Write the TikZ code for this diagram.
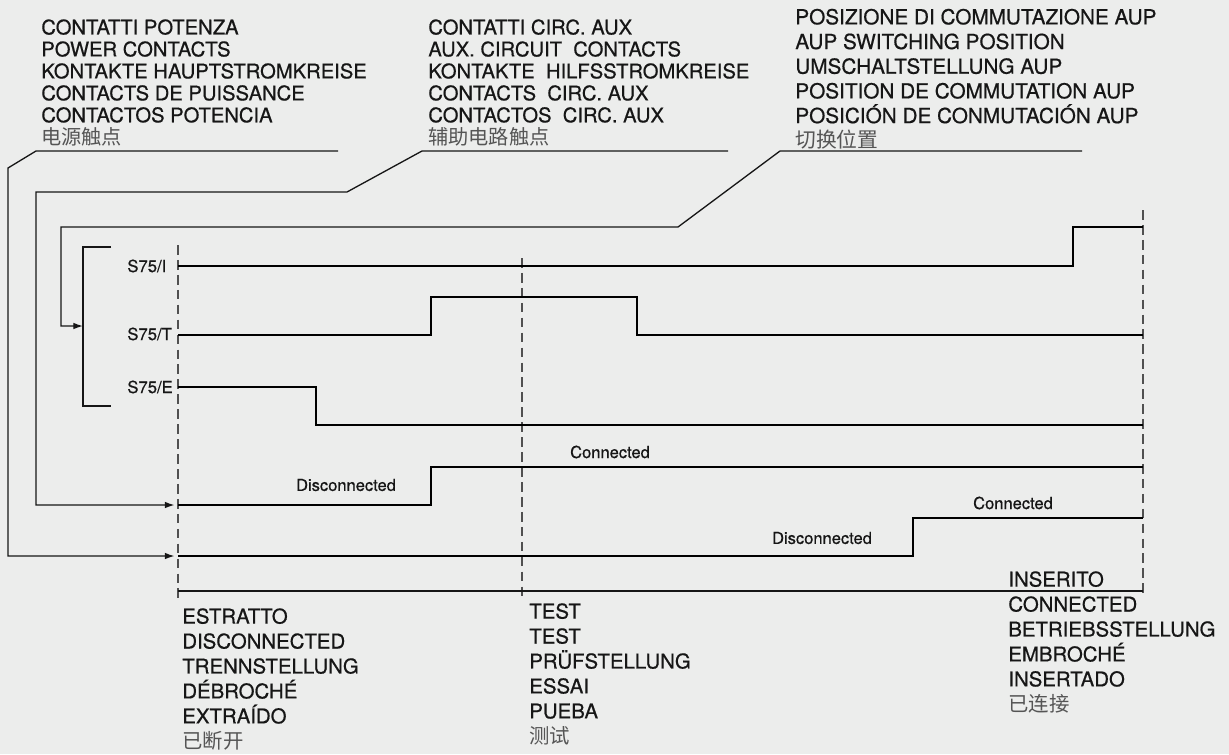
\documentclass[tikz,border=0pt]{standalone}
\usepackage{fontspec}
\setmainfont{TeX Gyre Heros}[FakeBold=0.6]
\newfontfamily\cjk{Noto Sans CJK SC}
\usetikzlibrary{arrows.meta}
\definecolor{bgcol}{RGB}{236,237,236}
\definecolor{inkcol}{RGB}{22,22,22}
\definecolor{cjkcol}{RGB}{85,85,85}
\definecolor{dashcol}{RGB}{80,80,80}

\begin{document}
\begin{tikzpicture}[x=0.02cm, y=-0.02cm,
    leader/.style={draw=inkcol, line width=0.75pt},
    signal/.style={draw=black, line width=1.45pt},
    guide/.style={draw=dashcol, line width=0.8pt, dash pattern=on 5.5pt off 3pt},
    heading/.style={anchor=north west, inner sep=0pt, align=left, text=inkcol,
        font=\fontsize{11.5}{12.5}\selectfont},
    state/.style={anchor=north west, inner sep=0pt, align=left, text=inkcol,
        font=\fontsize{11.6}{14.2}\selectfont},
    tag/.style={anchor=west, inner sep=0pt, text=inkcol, font=\fontsize{9.5}{11}\selectfont},
    note/.style={inner sep=0pt, text=inkcol, font=\fontsize{9.4}{11}\selectfont},
    tip/.style={-{Latex[length=5.5pt,width=3.8pt]}}]
    \useasboundingbox (0,0) rectangle (1229,754);
    \fill [bgcol] (0,0) rectangle (1229,754);

    % Headings
    \node [heading] (hdPower) at (41,19) {CONTATTI POTENZA\\POWER CONTACTS\\KONTAKTE HAUPTSTROMKREISE\\CONTACTS DE PUISSANCE\\CONTACTOS POTENCIA\\{\cjk\color{cjkcol}电源触点}};
    \node [heading] (hdAux) at (428,19) {CONTATTI CIRC. AUX\\AUX. CIRCUIT\ \ CONTACTS\\KONTAKTE\ \ HILFSSTROMKREISE\\CONTACTS\ \ CIRC. AUX\\CONTACTOS\ \ CIRC. AUX\\{\cjk\color{cjkcol}辅助电路触点}};
    \node [heading, font=\fontsize{11.8}{14.05}\selectfont] (hdAup) at (795,8.5) {POSIZIONE DI COMMUTAZIONE AUP\\AUP SWITCHING POSITION\\UMSCHALTSTELLUNG AUP\\POSITION DE COMMUTATION AUP\\POSICIÓN DE CONMUTACIÓN AUP\\{\cjk\color{cjkcol}切换位置}};

    % Positions
    \node [state] (stOut) at (182,608) {ESTRATTO\\DISCONNECTED\\TRENNSTELLUNG\\DÉBROCHÉ\\EXTRAÍDO\\{\cjk\color{cjkcol}已断开}};
    \node [state] (stTest) at (529,603) {TEST\\TEST\\PRÜFSTELLUNG\\ESSAI\\PUEBA\\{\cjk\color{cjkcol}测试}};
    \node [state] (stIn) at (1008,571) {INSERITO\\CONNECTED\\BETRIEBSSTELLUNG\\EMBROCHÉ\\INSERTADO\\{\cjk\color{cjkcol}已连接}};

    % Contact names
    \node [tag] (lblI) at (127,266) {S75/I};
    \node [tag] (lblT) at (127,334) {S75/T};
    \node [tag] (lblE) at (127,387) {S75/E};

    % Draw guides
    \coordinate (gOutTop) at (178,245);
    \coordinate (gOutBot) at (178,598);
    \coordinate (gTestTop) at (522,258);
    \coordinate (gTestBot) at (522,598);
    \coordinate (gInTop) at (1143,210);
    \coordinate (gInBot) at (1143,598);
    \draw [guide] (gOutTop) -- (gOutBot);
    \draw [guide] (gTestTop) -- (gTestBot);
    \draw [guide] (gInTop) -- (gInBot);
    \coordinate (axL) at (178,591);
    \coordinate (axR) at (1143,591);
    \draw [leader] (axL) -- (axR);

    % Draw signals
    \coordinate (sI) at (178,266);
    \coordinate (sT) at (178,335);
    \coordinate (sE) at (178,387);
    \coordinate (sAux) at (178,505);
    \coordinate (sPow) at (178,556);
    \draw [signal] (sI) -- (1073,266) -- (1073,227) -- (1143,227);
    \draw [signal] (sT) -- (431,335) -- (431,297) -- (637,297) -- (637,335) -- (1143,335);
    \draw [signal] (sE) -- (316,387) -- (316,425) -- (1143,425);
    \draw [signal] (sAux) -- (431,505) -- (431,467) -- (1143,467);
    \draw [signal] (sPow) -- (913,556) -- (913,518) -- (1143,518);

    \node [note] (txDiscA) at (346,485) {Disconnected};
    \node [note] (txConA) at (610,452) {Connected};
    \node [note] (txDiscB) at (822,538) {Disconnected};
    \node [note] (txConB) at (1013,503) {Connected};

    % Draw leaders
    \coordinate (brTop) at (111,247);
    \coordinate (brBot) at (111,406);
    \coordinate (brMid) at (83,326);
    \draw [leader] (brTop) -- (83,247) -- (83,406) -- (brBot);

    \coordinate (pw0) at (338,151);
    \coordinate (pw1) at (36,151);
    \coordinate (pw2) at (8,168);
    \coordinate (pw3) at (8,556);
    \draw [leader, tip] (pw0) -- (pw1) -- (pw2) -- (pw3) -- ([xshift=-2pt]sPow);

    \coordinate (ax0) at (728,151);
    \coordinate (ax1) at (422,151);
    \coordinate (ax2) at (347,192);
    \coordinate (ax3) at (36,192);
    \coordinate (ax4) at (36,505);
    \draw [leader, tip] (ax0) -- (ax1) -- (ax2) -- (ax3) -- (ax4) -- ([xshift=-2pt]sAux);

    \coordinate (up0) at (1082,151);
    \coordinate (up1) at (780,151);
    \coordinate (up2) at (678,227);
    \coordinate (up3) at (61,227);
    \coordinate (up4) at (61,326);
    \draw [leader, tip] (up0) -- (up1) -- (up2) -- (up3) -- (up4) -- (brMid);
\end{tikzpicture}
\end{document}
